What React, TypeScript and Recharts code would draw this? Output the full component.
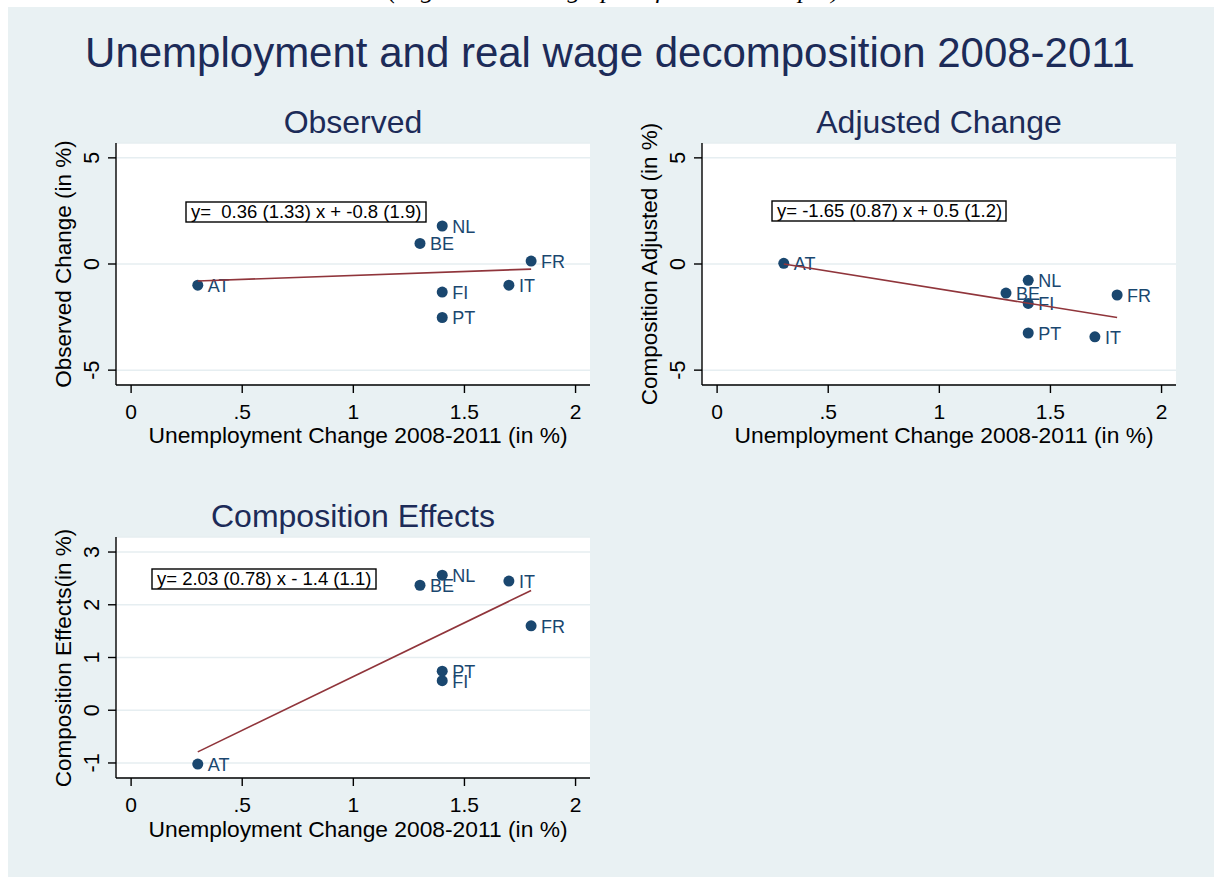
import { ScatterChart, Scatter, XAxis, YAxis, CartesianGrid } from "recharts";

// values (x = unemployment change, y = wage change)
const countries = ["AT", "BE", "FI", "FR", "IT", "NL", "PT"];
const unempChange = [0.3, 1.3, 1.4, 1.8, 1.7, 1.4, 1.4];
const observed = [-1.0, 0.97, -1.32, 0.14, -1.0, 1.79, -2.52];
const adjusted = [0.03, -1.37, -1.86, -1.46, -3.43, -0.77, -3.25];
const composition = [-1.02, 2.37, 0.56, 1.6, 2.45, 2.56, 0.74];

// fitted line end points
const fitX = [0.3, 1.8];
const observedFit = [-0.8, -0.24];
const adjustedFit = [0.0, -2.52];
const compositionFit = [-0.79, 2.27];

const xTicks = [0, 0.5, 1, 1.5, 2];
const xDomain = [-0.068, 2.065];
const changeTicks = [-5, 0, 5];
const changeDomain = [-5.7, 5.7];
const compTicks = [-1, 0, 1, 2, 3];
const compDomain = [-1.285, 3.285];

const NAVY = "#1a476f";
const MAROON = "#90353b";
const TITLE = "#1c2b58";
const BG = "#e9f1f3";
const GRID = "#e6eef1";
const FONT = "'Liberation Sans', Arial, Helvetica, sans-serif";

const toPoints = (ys: number[]) =>
  countries.map((c, i) => ({ name: c, x: unempChange[i], y: ys[i] }));
const toFit = (ys: number[]) => fitX.map((x, i) => ({ x, y: ys[i] }));

const fmtX = (v: number) => (v === 0.5 ? ".5" : String(v));

// eslint-disable-next-line @typescript-eslint/no-explicit-any
const renderPoint = (props: any) => {
  const { cx, cy } = props;
  const name = props.payload?.name ?? props.name;
  return (
    <g>
      <circle cx={cx} cy={cy} r={5.5} fill={NAVY} />
      <text x={cx + 10} y={cy + 1} dominantBaseline="central" fontSize={18} fill={NAVY} fontFamily={FONT}>
        {name}
      </text>
    </g>
  );
};

const renderNothing = () => <g />;

// eslint-disable-next-line @typescript-eslint/no-explicit-any
const YTick = (props: any) => {
  const { x, y, payload } = props;
  return (
    <text
      x={x}
      y={y}
      transform={`rotate(-90 ${x} ${y})`}
      textAnchor="middle"
      fontSize={21.5}
      fill="#000"
      fontFamily={FONT}
    >
      {payload.value}
    </text>
  );
};

type PanelProps = {
  left: number;
  top: number;
  height: number;
  points: { name: string; x: number; y: number }[];
  fit: { x: number; y: number }[];
  yDomain: number[];
  yTicks: number[];
};

function Panel({ left, top, height, points, fit, yDomain, yTicks }: PanelProps) {
  return (
    <div style={{ position: "absolute", left: left - 70, top: top - 10 }}>
      <ScatterChart width={564} height={height + 70} margin={{ top: 10, right: 20, bottom: 0, left: 0 }}>
        <CartesianGrid vertical={false} stroke={GRID} strokeWidth={1.5} fill="#fff" />
        <XAxis
          type="number"
          dataKey="x"
          domain={xDomain}
          ticks={xTicks}
          allowDataOverflow
          height={60}
          tickSize={8}
          tickMargin={11}
          tickFormatter={fmtX}
          tick={{ fill: "#000", fontSize: 21, fontFamily: FONT }}
          axisLine={{ stroke: "#000", strokeWidth: 1.4 }}
          tickLine={{ stroke: "#000", strokeWidth: 1.4 }}
        />
        <YAxis
          type="number"
          dataKey="y"
          domain={yDomain}
          ticks={yTicks}
          allowDataOverflow
          width={70}
          tickSize={8}
          tickMargin={9}
          tick={YTick}
          axisLine={{ stroke: "#000", strokeWidth: 1.4 }}
          tickLine={{ stroke: "#000", strokeWidth: 1.4 }}
        />
        <Scatter data={points} shape={renderPoint} isAnimationActive={false} />
        <Scatter
          data={fit}
          line={{ stroke: MAROON, strokeWidth: 1.6 }}
          shape={renderNothing}
          isAnimationActive={false}
        />
      </ScatterChart>
    </div>
  );
}

function EqBox({ x, y, w, text }: { x: number; y: number; w: number; text: string }) {
  return (
    <g>
      <rect x={x} y={y} width={w} height={20} fill="#fff" stroke="#000" strokeWidth={1.4} />
      <text x={x + 5} y={y + 16} fontSize={18.5} fill="#000" fontFamily={FONT} style={{ whiteSpace: "pre" }}>
        {text}
      </text>
    </g>
  );
}

export default function App() {
  return (
    <div style={{ position: "relative", width: 1214, height: 877, background: "#fff", overflow: "hidden" }}>
      <style>{"body{margin:0;overflow:hidden}"}</style>
      <div style={{ position: "absolute", left: 8, top: 7, right: 0, bottom: 0, background: BG }} />

      <Panel left={116} top={143} height={242} points={toPoints(observed)} fit={toFit(observedFit)} yDomain={changeDomain} yTicks={changeTicks} />
      <Panel left={702} top={143} height={242} points={toPoints(adjusted)} fit={toFit(adjustedFit)} yDomain={changeDomain} yTicks={changeTicks} />
      <Panel left={116} top={537} height={241} points={toPoints(composition)} fit={toFit(compositionFit)} yDomain={compDomain} yTicks={compTicks} />

      <svg width={1214} height={877} style={{ position: "absolute", left: 0, top: 0, pointerEvents: "none" }}>
        <text x={614} y={-2} textAnchor="middle" fontSize={26} fontStyle="italic" fontFamily="'Liberation Serif', 'Times New Roman', serif" fill="#000" textLength={452} lengthAdjust="spacing">
          (Figure excluding Spain from the Sample)
        </text>

        <text x={610} y={67} textAnchor="middle" fontSize={42} fill={TITLE} fontFamily={FONT}>
          Unemployment and real wage decomposition 2008-2011
        </text>

        <text x={353} y={133} textAnchor="middle" fontSize={32} fill={TITLE} fontFamily={FONT}>Observed</text>
        <text x={939} y={133} textAnchor="middle" fontSize={32} fill={TITLE} fontFamily={FONT}>Adjusted Change</text>
        <text x={353} y={527} textAnchor="middle" fontSize={32} fill={TITLE} fontFamily={FONT}>Composition Effects</text>

        <text x={358} y={443} textAnchor="middle" fontSize={22.8} fill="#000" fontFamily={FONT}>Unemployment Change 2008-2011 (in %)</text>
        <text x={944} y={443} textAnchor="middle" fontSize={22.8} fill="#000" fontFamily={FONT}>Unemployment Change 2008-2011 (in %)</text>
        <text x={358} y={837} textAnchor="middle" fontSize={22.8} fill="#000" fontFamily={FONT}>Unemployment Change 2008-2011 (in %)</text>

        <text x={71} y={264} transform="rotate(-90 71 264)" textAnchor="middle" fontSize={22.5} fill="#000" fontFamily={FONT}>Observed Change (in %)</text>
        <text x={657} y={264} transform="rotate(-90 657 264)" textAnchor="middle" fontSize={22.5} fill="#000" fontFamily={FONT}>Composition Adjusted (in %)</text>
        <text x={71} y={658} transform="rotate(-90 71 658)" textAnchor="middle" fontSize={22.5} fill="#000" fontFamily={FONT}>Composition Effects(in %)</text>

        <EqBox x={186} y={202} w={240} text="y=  0.36 (1.33) x + -0.8 (1.9)" />
        <EqBox x={772} y={201} w={234} text="y= -1.65 (0.87) x + 0.5 (1.2)" />
        <EqBox x={152} y={569} w={224} text="y= 2.03 (0.78) x - 1.4 (1.1)" />
      </svg>
    </div>
  );
}
